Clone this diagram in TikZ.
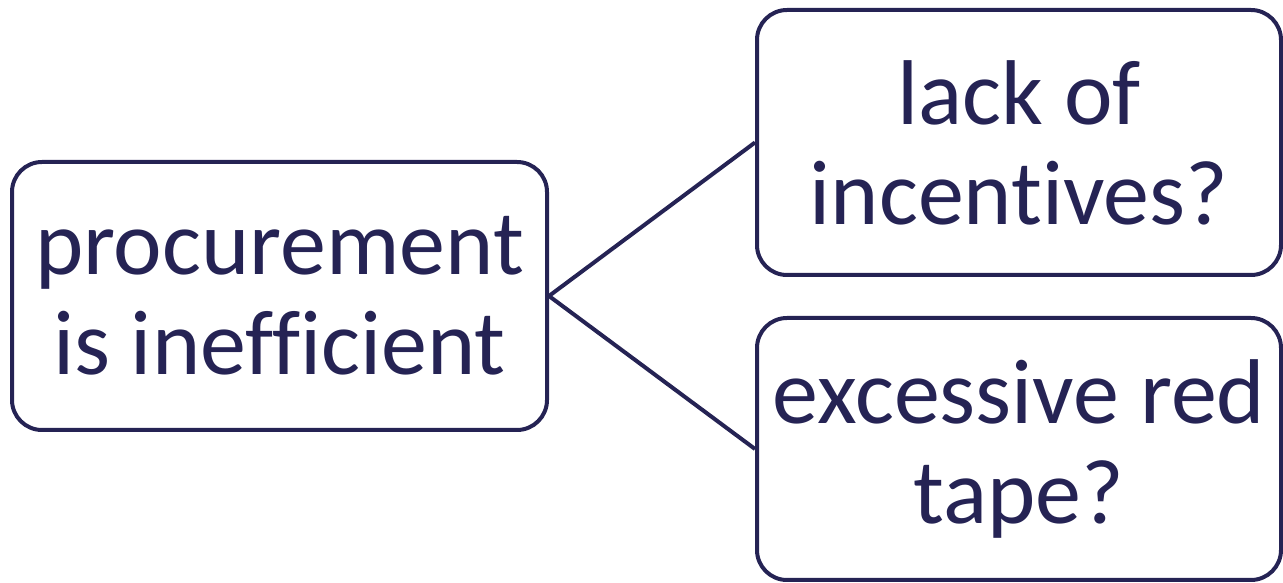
\documentclass[tikz,border=0pt]{standalone}
\usepackage{fontspec}
\setmainfont{Carlito}[Ligatures=NoCommon]
\usepackage{tikz}
\usetikzlibrary{positioning}
\definecolor{navy}{HTML}{252354}

\begin{document}
\begin{tikzpicture}[x=1pt,y=1pt,
        box/.style={draw=navy,line width=4pt,rounded corners=30pt,text=navy,
            align=center,inner sep=0pt,font=\fontsize{92}{100}\selectfont},
        link/.style={draw=navy,line width=4pt}]
        \useasboundingbox (0,0) rectangle (1283,583);
        \node [box,minimum width=535pt,minimum height=268pt] (0) at (279.5,287) {procurement\\is inefficient};
        \node [box,minimum width=524pt,minimum height=265pt] (1) at (1019,440.5) {lack of\\incentives?};
        \node [box,minimum width=524pt,minimum height=262pt] (2) at (1019,134) {excessive red\\tape?};
        \path[link]
            (0.east) edge (1.west)
            (0.east) edge (2.west);
    \end{tikzpicture}
\end{document}
